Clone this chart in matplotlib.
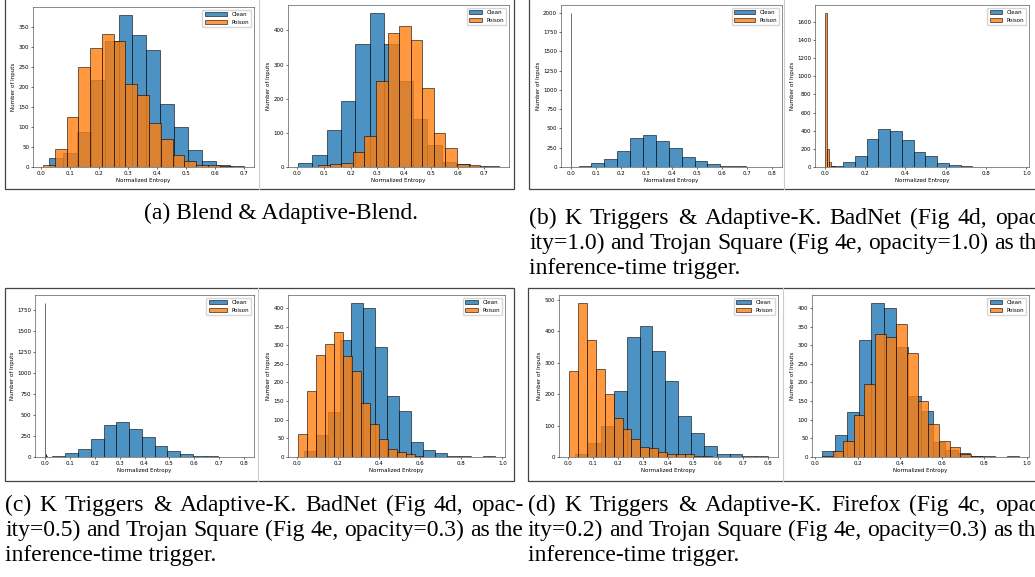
import numpy as np
import matplotlib
matplotlib.use("Agg")
import matplotlib.pyplot as plt
from matplotlib.ticker import MultipleLocator
from matplotlib.patches import Rectangle
from matplotlib.lines import Line2D

# ------------------------------------------------------------
# data: histogram counts + (start, end) of the bin range
# ------------------------------------------------------------
# (a) Blend
blend_clean = [23, 35, 87, 217, 315, 380, 330, 292, 158, 100, 42, 14, 6, 2]
blend_clean_range = (0.027, 0.701)
blend_poison = [5, 45, 124, 249, 296, 332, 315, 208, 180, 110, 69, 31, 14, 6, 4, 3]
blend_poison_range = (0.007, 0.658)

# (a) Adaptive-Blend
ablend_clean = [13, 35, 107, 192, 361, 452, 360, 253, 140, 63, 15, 8, 3, 2]
ablend_clean_range = (0.004, 0.754)
ablend_poison = [5, 10, 13, 45, 90, 253, 393, 413, 373, 231, 101, 56, 9, 5]
ablend_poison_range = (0.079, 0.684)

# K triggers, clean inputs (same model in b/c/d left)
ktrig_clean = [8, 46, 98, 211, 380, 415, 337, 240, 131, 76, 34, 11, 9, 2, 4]
ktrig_clean_range = (0.030, 0.800)

# Adaptive-K, clean inputs
adak_clean = [15, 60, 120, 314, 414, 401, 296, 164, 124, 41, 19, 10, 4, 3, 1, 2]
adak_clean_range = (0.033, 0.965)

# (b) BadNet opacity 1.0
ktrig_poison_b = [2000]
ktrig_poison_b_range = (0.0, 0.0014)
adak_poison_b = [1700, 195, 60, 15, 8, 5, 3, 2, 2, 1, 1, 1, 0, 0, 1]
adak_poison_b_range = (0.0, 0.15)

# (c) BadNet opacity 0.5 / Trojan opacity 0.3
ktrig_poison_c = [1840, 0, 0, 0, 30, 40, 15, 5, 3, 2, 0, 0, 0, 0, 1]
ktrig_poison_c_range = (0.0, 0.015)
adak_poison_c = [62, 178, 274, 304, 336, 272, 231, 145, 89, 49, 22, 14, 8, 3, 1]
adak_poison_c_range = (0.005, 0.660)

# (d) Firefox opacity 0.2 / Trojan opacity 0.3
ktrig_poison_d = [272, 490, 373, 281, 199, 125, 90, 58, 33, 30, 15, 8, 10, 8, 2, 4]
ktrig_poison_d_range = (0.004, 0.575)
adak_poison_d = [2, 17, 44, 114, 197, 330, 321, 358, 280, 151, 89, 44, 28, 9, 4]
adak_poison_d_range = (0.031, 0.787)

captions = {
    "a": ["(a) Blend & Adaptive-Blend."],
    "b": ["(b) K Triggers & Adaptive-K. BadNet (Fig 4d, opac-",
          "ity=1.0) and Trojan Square (Fig 4e, opacity=1.0) as the",
          "inference-time trigger."],
    "c": ["(c) K Triggers & Adaptive-K. BadNet (Fig 4d, opac-",
          "ity=0.5) and Trojan Square (Fig 4e, opacity=0.3) as the",
          "inference-time trigger."],
    "d": ["(d) K Triggers & Adaptive-K. Firefox (Fig 4c, opac-",
          "ity=0.2) and Trojan Square (Fig 4e, opacity=0.3) as the",
          "inference-time trigger."],
}

# ------------------------------------------------------------
W, H = 1035, 577
plt.rcParams.update({
    "font.family": "DejaVu Sans",
    "font.size": 4,
    "axes.linewidth": 0.4,
    "xtick.major.size": 1.4, "ytick.major.size": 1.4,
    "xtick.major.width": 0.4, "ytick.major.width": 0.4,
    "xtick.major.pad": 1.4, "ytick.major.pad": 1.4,
    "axes.labelpad": 1.6,
    "axes.edgecolor": "#333333",
})

fig = plt.figure(figsize=(W / 100, H / 100), dpi=100)


def px_axes(x0, y0, x1, y1):
    return fig.add_axes([x0 / W, 1 - y1 / H, (x1 - x0) / W, (y1 - y0) / H])


def draw_hist(ax, clean, crange, poison, prange, xstep, ystep, hl):
    for counts, rng, col, lab in [(clean, crange, "#1f77b4", "Clean"),
                                  (poison, prange, "#ff7f0e", "Poison")]:
        edges = np.linspace(rng[0], rng[1], len(counts) + 1)
        ax.hist(edges[:-1], bins=edges, weights=counts, color=col, alpha=0.8,
                edgecolor="black", linewidth=0.5, label=lab)
    ax.xaxis.set_major_locator(MultipleLocator(xstep))
    ax.yaxis.set_major_locator(MultipleLocator(ystep))
    ax.set_xlabel("Normalized Entropy")
    ax.set_ylabel("Number of Inputs")
    ax.legend(loc="upper right", handlelength=hl, fancybox=True,
              framealpha=0.8, borderpad=0.4, labelspacing=0.5)


panels = [
    ((33, 7, 254, 167), blend_clean, blend_clean_range, blend_poison, blend_poison_range, 0.1, 50, 4.0),
    ((288, 5, 509, 167), ablend_clean, ablend_clean_range, ablend_poison, ablend_poison_range, 0.1, 100, 2.3),
    ((561, 5, 782, 167), ktrig_clean, ktrig_clean_range, ktrig_poison_b, ktrig_poison_b_range, 0.1, 250, 3.7),
    ((815, 5, 1029, 167), adak_clean, adak_clean_range, adak_poison_b, adak_poison_b_range, 0.2, 200, 2.2),
    ((35, 295, 254, 457), ktrig_clean, ktrig_clean_range, ktrig_poison_c, ktrig_poison_c_range, 0.1, 250, 3.3),
    ((288, 295, 505, 457), adak_clean, adak_clean_range, adak_poison_c, adak_poison_c_range, 0.2, 50, 2.3),
    ((559, 295, 778, 457), ktrig_clean, ktrig_clean_range, ktrig_poison_d, ktrig_poison_d_range, 0.1, 100, 2.6),
    ((812, 295, 1029, 457), adak_clean, adak_clean_range, adak_poison_d, adak_poison_d_range, 0.2, 50, 2.2),
]
for box, c, cr, p, pr, xs, ys, hl in panels:
    ax = px_axes(*box)
    draw_hist(ax, c, cr, p, pr, xs, ys, hl)

# frames around each sub-figure and light separators
for (x0, y0, x1, y1, sep) in [(5, -5, 514, 189, 259), (529, -5, 1045, 189, 784),
                               (5, 288, 514, 481, 258), (528, 288, 1045, 481, 783)]:
    fig.patches.append(Rectangle((x0 / W, 1 - y1 / H), (x1 - x0) / W, (y1 - y0) / H,
                                 transform=fig.transFigure, fill=False,
                                 edgecolor="#444444", linewidth=0.9))
    fig.lines.append(Line2D([sep / W, sep / W], [1 - y1 / H, 1 - y0 / H],
                            transform=fig.transFigure, color="#cccccc", linewidth=0.8))

# captions (Times-like, justified)
cap_kw = dict(family="Liberation Serif", fontsize=17, color="black")
renderer = fig.canvas.get_renderer()


def justified(x0, x1, ybase, line):
    words = line.split(" ")
    widths = []
    for w in words:
        t = fig.text(0, 0, w, **cap_kw)
        widths.append(t.get_window_extent(renderer).width)
        t.remove()
    gap = (x1 - x0 - sum(widths)) / (len(words) - 1)
    x = x0
    for w, wd in zip(words, widths):
        fig.text(x / W, 1 - ybase / H, w, va="baseline", ha="left", **cap_kw)
        x += wd + gap


fig.text(281 / W, 1 - 219 / H, captions["a"][0], ha="center", va="baseline", **cap_kw)
for col, x0, base in [("b", 529, 224), ("c", 5, 511), ("d", 528, 511)]:
    lines = captions[col]
    for i, line in enumerate(lines):
        yb = base + 25 * i
        if i < len(lines) - 1:
            justified(x0, x0 + 519, yb, line)
        else:
            fig.text(x0 / W, 1 - yb / H, line, ha="left", va="baseline", **cap_kw)

fig.savefig("out.png", dpi=100)
